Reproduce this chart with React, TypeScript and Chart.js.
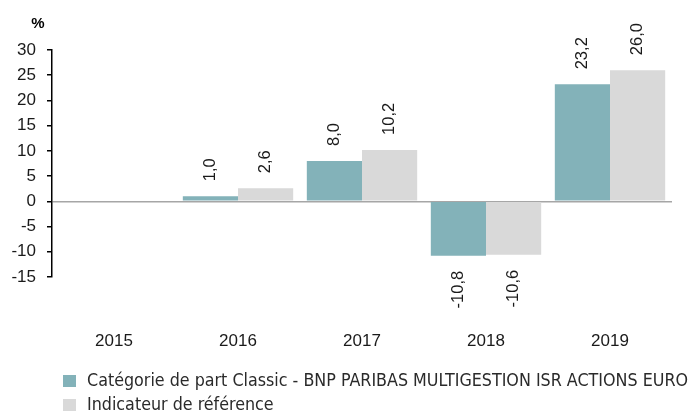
import React, { useEffect, useRef } from "react";
import { Chart, registerables } from "chart.js";

Chart.register(...registerables);

const categories = ["2015", "2016", "2017", "2018", "2019"];
const fundValues: (number | null)[] = [null, 1.0, 8.0, -10.8, 23.2];
const benchValues: (number | null)[] = [null, 2.6, 10.2, -10.6, 26.0];
const seriesNames = [
  "Catégorie de part Classic - BNP PARIBAS MULTIGESTION ISR ACTIONS EURO",
  "Indicateur de référence",
];
const seriesColors = ["#83b2b9", "#d9d9d9"];
const yMin = -15;
const yMax = 30;
const yStep = 5;
const unitLabel = "%";

const tickFont = "Liberation Sans, Arial, sans-serif";
const legendFont = "Liberation Sans Narrow, DejaVu Sans Condensed, Liberation Sans, sans-serif";

const fmt = (v: number) => v.toFixed(1).replace(".", ",");

const dataLabelPlugin = {
  id: "dataLabels",
  afterDatasetsDraw(chart: any) {
    const ctx = chart.ctx;
    ctx.save();
    ctx.font = `16.5px ${tickFont}`;
    ctx.fillStyle = "#1a1a1a";
    ctx.textBaseline = "middle";
    chart.data.datasets.forEach((ds: any, i: number) => {
      const meta = chart.getDatasetMeta(i);
      meta.data.forEach((el: any, j: number) => {
        const v = ds.data[j];
        if (v === null || v === undefined) return;
        ctx.save();
        if (v >= 0) {
          ctx.translate(el.x, el.y - 15);
          ctx.rotate(-Math.PI / 2);
          ctx.textAlign = "left";
        } else {
          ctx.translate(el.x, el.y + 15);
          ctx.rotate(-Math.PI / 2);
          ctx.textAlign = "right";
        }
        ctx.fillText(fmt(v), 0, 0);
        ctx.restore();
      });
    });
    ctx.restore();
  },
};

const extrasPlugin = {
  id: "extras",
  afterDraw(chart: any) {
    const ctx = chart.ctx;
    const area = chart.chartArea;
    ctx.save();
    ctx.font = `bold 15px ${tickFont}`;
    ctx.fillStyle = "#000";
    ctx.textAlign = "center";
    ctx.textBaseline = "middle";
    ctx.fillText(unitLabel, area.left - 14, area.top - 26);

    const boxX = area.left + 11;
    const textX = area.left + 35;
    const targetWidth = chart.width - 3 - textX;
    const lineYs = [chart.height - 31, chart.height - 7];
    ctx.font = `18px ${legendFont}`;
    ctx.textAlign = "left";
    const w0 = ctx.measureText(seriesNames[0]).width;
    const sx = Math.min(1, targetWidth / w0);
    seriesNames.forEach((name, i) => {
      const y = lineYs[i];
      ctx.fillStyle = seriesColors[i];
      ctx.fillRect(boxX, y - 6, 13, 12);
      ctx.fillStyle = "#2a2a2a";
      ctx.save();
      ctx.translate(textX, y);
      ctx.scale(sx, 1);
      ctx.fillText(name, 0, 0);
      ctx.restore();
    });
    ctx.restore();
  },
};

export default function App() {
  const canvasRef = useRef<HTMLCanvasElement | null>(null);

  useEffect(() => {
    document.body.style.margin = "0";
    const canvas = canvasRef.current;
    if (!canvas) return;
    const chart = new Chart(canvas, {
      type: "bar",
      data: {
        labels: categories,
        datasets: [
          {
            label: seriesNames[0],
            data: fundValues,
            backgroundColor: seriesColors[0],
            categoryPercentage: 0.89,
            barPercentage: 1,
          },
          {
            label: seriesNames[1],
            data: benchValues,
            backgroundColor: seriesColors[1],
            categoryPercentage: 0.89,
            barPercentage: 1,
          },
        ],
      },
      options: {
        animation: false,
        responsive: false,
        maintainAspectRatio: false,
        layout: { padding: { left: 0, right: 19, top: 50, bottom: 55 } },
        plugins: {
          legend: { display: false },
          tooltip: { enabled: false },
          title: { display: false },
        },
        scales: {
          x: {
            afterFit: (scale: any) => {
              scale.height = 80;
            },
            grid: { display: false },
            border: { display: false },
            ticks: {
              padding: 46,
              color: "#1a1a1a",
              font: { family: tickFont, size: 17 },
            },
          },
          y: {
            min: yMin,
            max: yMax,
            afterFit: (scale: any) => {
              scale.width = 52;
            },
            ticks: {
              stepSize: yStep,
              autoSkip: false,
              padding: 11,
              color: "#1a1a1a",
              font: { family: tickFont, size: 17 },
              callback: (v: any) => String(v),
            },
            border: { display: true, color: "#000", width: 1.5 },
            grid: {
              color: (c: any) =>
                c.tick && c.tick.value === 0 ? "#a6a6a6" : "rgba(0,0,0,0)",
              lineWidth: 1.5,
              tickColor: "#000",
              tickWidth: 1.5,
              tickLength: 5,
              drawOnChartArea: true,
            },
          },
        },
      },
      plugins: [dataLabelPlugin, extrasPlugin],
    });
    return () => chart.destroy();
  }, []);

  return (
    <div style={{ width: 691, height: 412, position: "relative" }}>
      <canvas ref={canvasRef} width={691} height={412} />
    </div>
  );
}
